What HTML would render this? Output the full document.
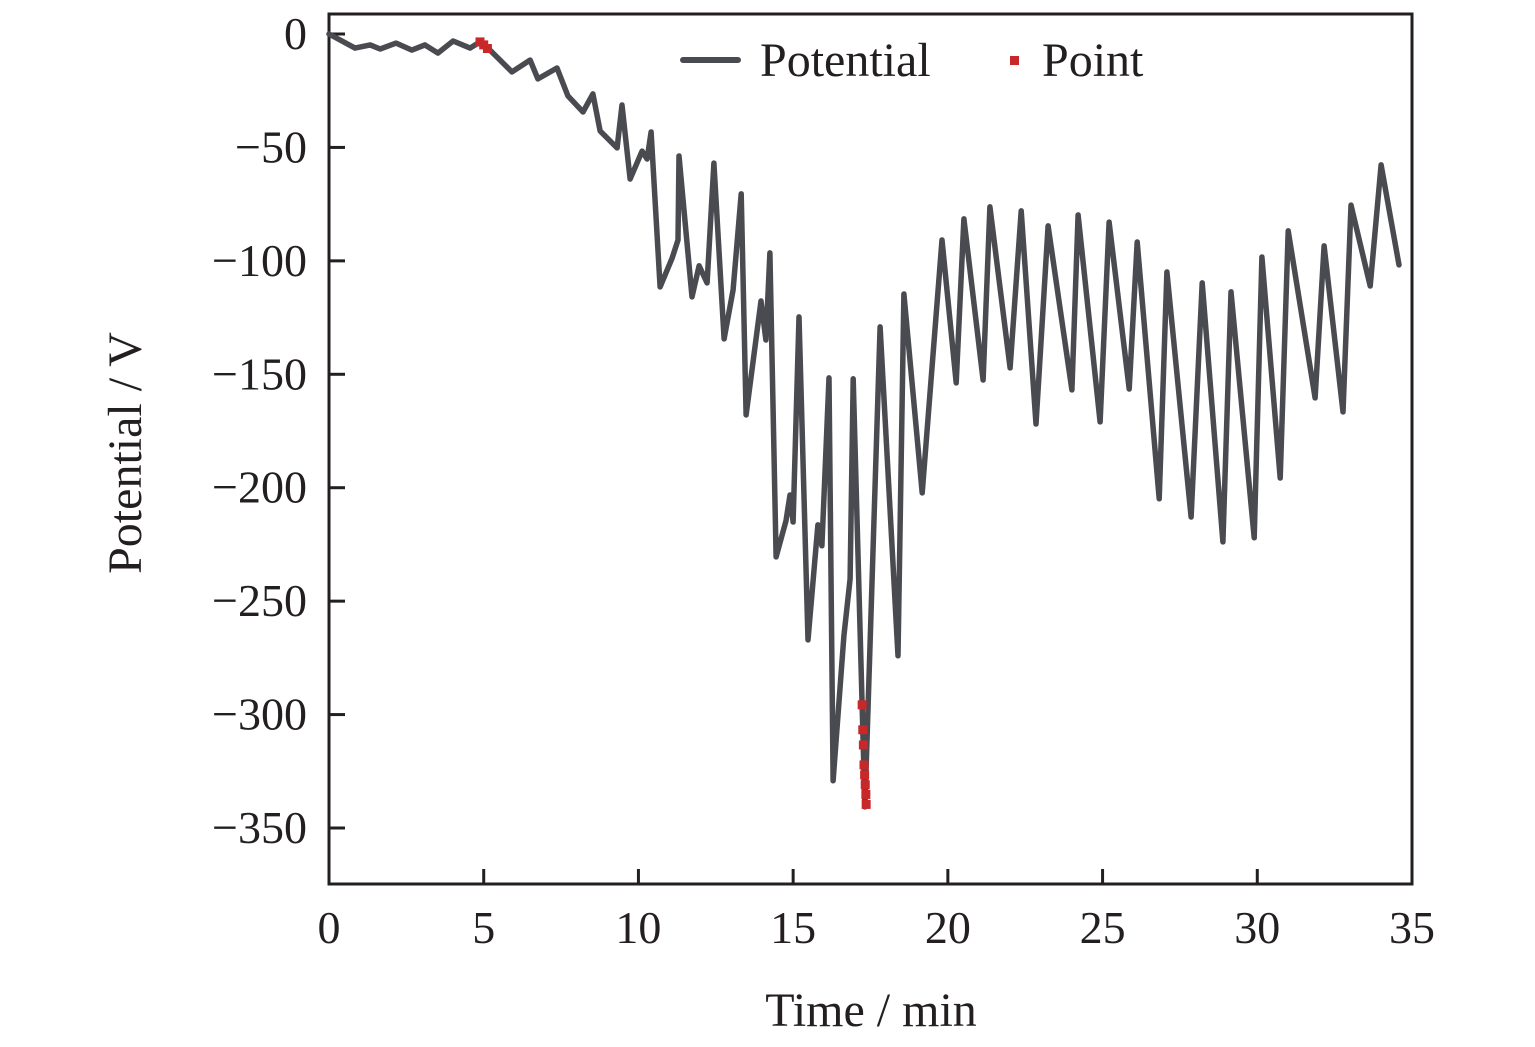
<!DOCTYPE html>
<html><head><meta charset="utf-8"><style>
html,body{margin:0;padding:0;background:#fff;}
svg{display:block;font-family:"Liberation Serif",serif;}
</style></head><body>
<svg id="chart" width="1535" height="1047" viewBox="0 0 1535 1047" xmlns="http://www.w3.org/2000/svg">
<g id="plot"></g>
</svg>
<script>
const xTicks = [0,5,10,15,20,25,30,35];
const yTicks = [0,-50,-100,-150,-200,-250,-300,-350];
const potT = [0,0.84,1.33,1.65,2.17,2.68,3.10,3.52,4.01,4.56,4.88,5.20,5.91,6.50,6.75,7.37,7.72,8.21,8.53,8.76,9.31,9.47,9.73,10.12,10.28,10.41,10.70,11.09,11.28,11.31,11.73,11.96,12.22,12.44,12.77,13.06,13.32,13.48,13.96,14.12,14.25,14.45,14.77,14.90,15.0,15.19,15.48,15.80,15.93,16.16,16.29,16.64,16.84,16.94,17.32,17.81,18.39,18.58,19.17,19.81,20.27,20.52,21.14,21.36,22.01,22.37,22.85,23.24,24.01,24.21,24.92,25.21,25.86,26.12,26.83,27.08,27.86,28.22,28.89,29.15,29.90,30.15,30.74,31.0,31.87,32.16,32.77,33.03,33.65,34.0,34.58];
const potV = [0,-6.2,-4.8,-6.6,-4.0,-7.1,-4.8,-8.4,-3.1,-6.2,-3.5,-7.1,-16.7,-11.5,-19.8,-15.0,-27.3,-34.4,-26.4,-42.7,-50.2,-31.3,-63.9,-51.6,-55.1,-43.2,-111.5,-98.7,-90.8,-53.8,-115.9,-102.2,-109.7,-56.9,-134.4,-112.8,-70.5,-167.9,-117.7,-134.9,-96.5,-230.5,-214.6,-203.2,-215.1,-124.7,-267.1,-216.4,-225.6,-151.6,-329.2,-265.3,-240.2,-152.0,-340.7,-129.1,-274.1,-114.6,-202.3,-90.8,-153.8,-81.5,-152.5,-76.2,-147.2,-78.0,-171.9,-84.6,-156.9,-79.8,-171.0,-82.9,-156.5,-91.7,-204.9,-104.9,-212.9,-109.7,-223.9,-113.7,-222.1,-98.3,-195.7,-86.8,-160.4,-93.4,-166.6,-75.4,-111.1,-57.7,-101.8];
const ptT = [4.88,5.0,5.12,17.23,17.25,17.27,17.29,17.31,17.33,17.35,17.36];
const ptV = [-3.5,-4.8,-6.4,-295.7,-306.7,-313.4,-322.2,-326.6,-330.9,-335.2,-339.6];

const L=329,R=1412,T=14,B=884,X0=0,X1=35,Y0=0,Ypx0=34,Ypx350=828;
const sx = t => L + (t - X0)/(X1 - X0)*(R - L);
const sy = v => Ypx0 + (v - Y0)/(-350)*(Ypx350 - Ypx0);
const NS="http://www.w3.org/2000/svg";
const g=document.getElementById('plot');
function mk(tag, attrs, parent){const e=document.createElementNS(NS,tag);for(const k in attrs)e.setAttribute(k,attrs[k]);(parent||g).appendChild(e);return e;}

// frame
const frame=mk('rect',{x:L,y:T,width:R-L,height:B-T,fill:'none',stroke:'#231f20','stroke-width':3});



xTicks.forEach(t=>{
  const tk=mk('line',{x1:sx(t),x2:sx(t),y1:B,y2:B-15,stroke:'#231f20','stroke-width':3});
  
  
  const lb=mk('text',{x:sx(t),y:943,'text-anchor':'middle','font-size':46,fill:'#231f20'});
  lb.textContent=t;
  
  
});
yTicks.forEach(v=>{
  const tk=mk('line',{x1:L,x2:L+16,y1:sy(v),y2:sy(v),stroke:'#231f20','stroke-width':3});
  
  
  const lb=mk('text',{x:307,y:sy(v)+15,'text-anchor':'end','font-size':46,fill:'#231f20'});
  lb.textContent=v===0?'0':'\u2212'+Math.abs(v);
  
  
});

// series line
let d='';
potT.forEach((t,i)=>{d+=(i?'L':'M')+sx(t).toFixed(1)+','+sy(potV[i]).toFixed(1);});
const line=mk('path',{d:d,fill:'none',stroke:'#4a4b50','stroke-width':5.5,'stroke-linejoin':'round','stroke-linecap':'round'});



ptT.forEach((t,i)=>{
  const r=mk('rect',{x:sx(t)-4.5,y:sy(ptV[i])-4.5,width:9,height:9,fill:'#c8282a'});
  
  
});

// legend
const lgL=mk('line',{x1:683,x2:738,y1:60,y2:60,stroke:'#4a4b50','stroke-width':6,'stroke-linecap':'round'});


const lgT=mk('text',{x:760,y:76,'font-size':48,fill:'#231f20'});
lgT.textContent='Potential';


const lgP=mk('rect',{x:1010,y:56,width:9,height:9,fill:'#c8282a'});


const lgPT=mk('text',{x:1042,y:76,'font-size':48,fill:'#231f20'});
lgPT.textContent='Point';



const xt=mk('text',{x:871,y:1026,'text-anchor':'middle','font-size':48,fill:'#231f20'});
xt.textContent='Time / min';


const yt=mk('text',{x:0,y:0,'text-anchor':'middle','font-size':48,fill:'#231f20',transform:'translate(141,453) rotate(-90)'});
yt.textContent='Potential / V';


</script>
</body></html>
